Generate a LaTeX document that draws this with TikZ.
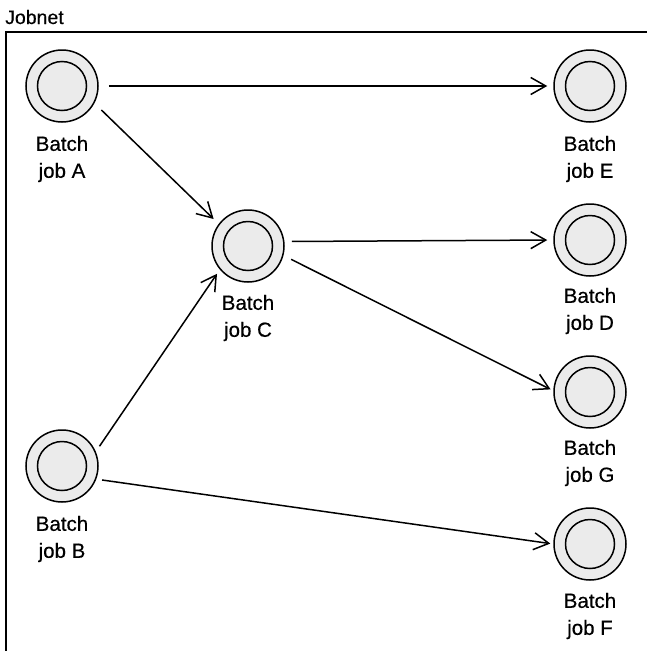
\documentclass[tikz,border=0pt]{standalone}
\usepackage{fontspec}
\setmainfont{Liberation Sans}
\newfontface\lblfont{Liberation Sans}[FakeBold=0.4]
\usetikzlibrary{arrows.meta}
\definecolor{jobfill}{HTML}{EBEBEB}
\tikzset{
  job/.style={circle, draw, line width=1.5pt, fill=jobfill, minimum size=72pt, inner sep=0pt,
    path picture={\draw[line width=1.5pt] (path picture bounding box.center) circle (24.5pt);}},
  lbl/.style={align=center, font=\lblfont\fontsize{20.5}{27}\selectfont, inner sep=0pt},
  conn/.style={line width=1.5pt, -{Straight Barb[length=15pt, width=17pt, line width=1.5pt]}}
}
\begin{document}
\begin{tikzpicture}[x=1pt, y=-1pt]
\useasboundingbox (0,0) rectangle (647,651);
\clip (0,0) rectangle (647,651);
\fill[white] (0,0) rectangle (647,651);
\node[anchor=base west, font=\lblfont\fontsize{19.5}{20}\selectfont, inner sep=0pt] (title) at (5,24) {Jobnet};
\coordinate (fbl) at (6,670);
\coordinate (ftl) at (6,32);
\coordinate (ftr) at (670,32);
\draw[line width=1.6pt] (fbl) -- (ftl) -- (ftr);

\node[job] (A) at (62,86) {};
\node[job] (E) at (590,86) {};
\node[job] (C) at (248,246) {};
\node[job] (D) at (590,240) {};
\node[job] (G) at (590,392) {};
\node[job] (B) at (62,466) {};
\node[job] (F) at (590,544) {};

\node[lbl] (lA) at (62,159) {Batch\\job A};
\node[lbl] (lE) at (590,159) {Batch\\job E};
\node[lbl] (lC) at (248,318) {Batch\\job C};
\node[lbl] (lD) at (590,311) {Batch\\job D};
\node[lbl] (lG) at (590,463) {Batch\\job G};
\node[lbl] (lB) at (62,539) {Batch\\job B};
\node[lbl] (lF) at (590,616) {Batch\\job F};

\draw[conn, shorten <=10pt, shorten >=6pt] (A.east) -- (E.west);
\draw[conn, shorten <=9.6pt, shorten >=7pt] (A.-28.8) -- (C.143.4);
\draw[conn, shorten <=6.5pt, shorten >=5pt] (B.23.6) -- (C.-140.9);
\draw[conn, shorten <=7.4pt, shorten >=6pt] (C.7.9) -- (D.west);
\draw[conn, shorten <=8.6pt, shorten >=3pt] (C.-15.6) -- (G.178.5);
\draw[conn, shorten <=5.8pt, shorten >=3pt] (B.-21) -- (F.west);
\end{tikzpicture}
\end{document}
